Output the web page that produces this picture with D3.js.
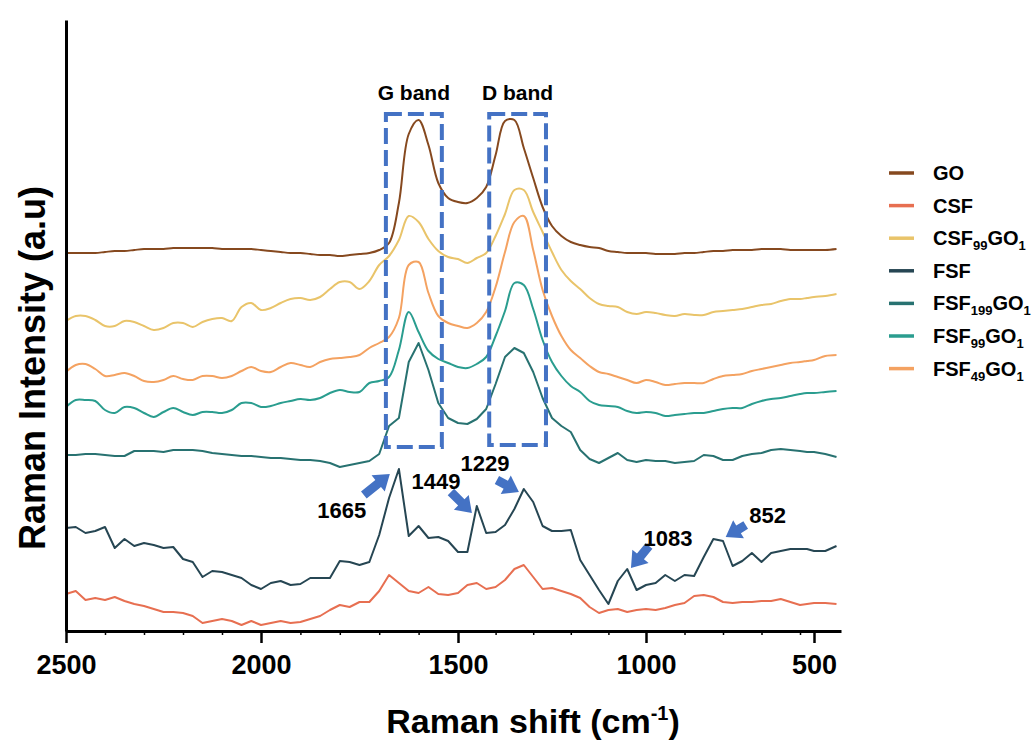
<!DOCTYPE html>
<html>
<head>
<meta charset="utf-8">
<script src="https://cdn.jsdelivr.net/npm/d3@7"></script>
<style>
  body { margin: 0; background: #fff; }
  text { font-family: "Liberation Sans", Arial, sans-serif; font-weight: bold; fill: #000; }
</style>
</head>
<body>
<script>
// Raman shift grid (cm-1), shared by every spectrum
var shifts = [2500,2475,2450,2425,2400,2375,2350,2325,2300,2275,
  2250,2225,2200,2175,2150,2125,2100,2075,2050,2025,
  2000,1975,1950,1925,1900,1875,1850,1825,1800,1775,
  1750,1725,1700,1675,1650,1625,1600,1575,1550,1525,
  1500,1475,1450,1425,1400,1375,1350,1325,1300,1275,
  1250,1225,1200,1175,1150,1125,1100,1075,1050,1025,
  1000,975,950,925,900,875,850,825,800,775,
  750,725,700,675,650,625,600,550,500,475,450];

// stacked intensities (a.u.)
var goValues = [378,378,378,378,379,380,380,381,382,382,
  382,383,383,383,383,383,382,382,382,382,
  381,380,379,378,378,377,376,376,375,376,
  377,378,381,388,428,497,511,486,448,433,
  429,428,433,444,476,510,511,483,453,424,
  405,395,389,386,384,383,380,379,378,378,
  378,377,377,377,378,378,379,380,380,381,
  381,381,382,382,382,381,381,381,381,381,382];

var csfValues = [37,40,31,33,31,34,30,27,25,22,
  19,19,18,15,8,10,12,10,6,10,
  6,8,10,8,9,12,15,21,26,24,
  29,29,40,56,48,40,38,44,37,36,
  38,46,48,42,44,51,62,66,54,42,
  43,40,37,33,24,18,21,22,19,21,
  22,21,23,26,28,35,36,34,29,28,
  29,29,30,30,32,29,26,27,28,28,27];

var csf99Values = [310,315,315,311,305,305,310,309,305,301,
  303,308,308,304,309,312,313,310,324,328,
  321,323,328,332,333,331,334,342,349,349,
  342,350,366,375,391,415,409,392,380,374,
  372,368,373,378,395,417,441,441,419,399,
  379,361,350,342,333,327,325,324,319,317,
  319,318,316,315,317,316,316,319,320,321,
  322,324,326,327,330,332,332,333,334,335,337];

var fsfValues = [103,104,98,100,104,83,92,85,88,86,
  83,84,72,69,54,60,59,56,53,46,
  42,48,50,46,47,53,53,53,70,69,
  66,69,96,133,162,95,105,93,94,90,
  79,79,125,98,99,106,122,142,129,105,
  100,100,101,71,56,41,27,50,62,41,
  46,48,56,50,56,55,74,92,90,65,
  70,78,69,78,80,82,82,82,80,80,85];

var fsf199Values = [176,176,177,177,176,175,175,180,180,180,
  179,181,181,181,180,178,177,176,175,175,
  174,173,173,172,171,171,170,168,164,166,
  168,170,177,205,213,269,288,261,228,213,
  208,207,212,222,247,274,283,278,259,233,
  213,205,199,181,172,168,173,178,171,169,
  171,170,170,168,169,170,176,175,171,171,
  175,177,178,181,182,181,180,179,179,177,174];

var fsf99Values = [224,231,231,230,221,218,224,223,218,214,
  219,223,219,216,219,219,218,221,228,228,
  224,225,228,230,232,231,233,238,241,239,
  239,248,250,254,281,319,299,280,272,268,
  264,263,267,274,295,320,348,346,322,291,
  269,255,245,239,230,226,225,224,220,218,
  219,218,215,216,217,218,218,220,222,223,
  223,227,230,232,233,235,237,238,238,239,240];

var fsf49Values = [259,266,267,262,255,256,258,255,250,249,
  251,255,252,251,255,255,253,255,260,264,
  260,259,264,268,266,264,269,272,273,274,
  276,283,288,294,313,366,369,338,315,308,
  305,303,308,319,344,379,409,415,381,341,
  315,295,281,273,265,259,257,254,251,248,
  251,249,246,247,248,248,248,252,255,256,
  257,260,262,264,266,268,269,270,271,275,276];

var seriesNames = ["GO", "CSF", "CSF99GO1", "FSF", "FSF199GO1", "FSF99GO1", "FSF49GO1"];
var seriesValues = [goValues, csfValues, csf99Values, fsfValues, fsf199Values, fsf99Values, fsf49Values];
var seriesColors = ["#86491f", "#e76f51", "#e9c46a", "#264653", "#287271", "#2a9d8f", "#f4a261"];
var seriesSmooth = [true, false, true, false, false, true, true];

var xTicks = [2500, 2000, 1500, 1000, 500];
var xMinorTicks = [2400,2300,2200,2100,1900,1800,1700,1600,1400,1300,1200,1100,900,800,700,600];

// band boxes (shift range, intensity range)
var bandLabels = ["G band", "D band"];
var bandFrom = [1683, 1417];
var bandTo = [1541, 1266];
var bandHigh = [517, 517];
var bandLow = [184, 186];

// peak markers on FSF
var peakLabels = ["1665", "1449", "1229", "1083", "852"];
var peakShift = [1673, 1463, 1338, 1040, 793];
var peakValue = [157, 118, 139, 63, 94];

var width = 1036,
    height = 747;

var svg = d3.select("body").append("svg")
    .attr("width", width)
    .attr("height", height);

// the printed axis is not evenly spaced, so the scale is piecewise
var x = d3.scaleLinear()
    .domain([2500, 2000, 1500, 1000, 600, 500, 440])
    .range([66, 261, 458, 646, 800, 814, 841]);

var y = d3.scaleLinear()
    .domain([0, 611])
    .range([631, 20]);

/* spectra */
seriesValues.forEach(function (vals, i) {
  var line = d3.line()
      .x(function (d, j) { return x(shifts[j]); })
      .y(function (d) { return y(d); })
      .curve(seriesSmooth[i] ? d3.curveCatmullRom.alpha(0.5) : d3.curveLinear);
  svg.append("path")
      .datum(vals)
      .attr("d", line)
      .attr("fill", "none")
      .attr("stroke", seriesColors[i])
      .attr("stroke-width", 2)
      .attr("stroke-linejoin", "round");
});

/* axes */
var xAxis = svg.append("g")
    .attr("transform", "translate(0," + y(0) + ")")
    .call(d3.axisBottom(x).tickValues(xTicks).tickSize(12).tickSizeOuter(0).tickFormat(d3.format("d")));
xAxis.select(".domain").attr("stroke", "#000").attr("stroke-width", 3);
xAxis.selectAll(".tick line").attr("stroke", "#000").attr("stroke-width", 2.5);
xAxis.selectAll(".tick text")
    .attr("y", 43).attr("dy", 0)
    .style("font-size", "27px")
    .style("font-family", "'Liberation Sans', Arial, sans-serif")
    .style("font-weight", "bold");

var xMinor = svg.append("g")
    .attr("transform", "translate(0," + y(0) + ")")
    .call(d3.axisBottom(x).tickValues(xMinorTicks).tickSize(4).tickFormat(""));
xMinor.select(".domain").remove();
xMinor.selectAll(".tick line").attr("stroke", "#000").attr("stroke-width", 1.5);

var yAxis = svg.append("g")
    .attr("transform", "translate(" + x(2500) + ",0)")
    .call(d3.axisLeft(y).tickValues([]).tickSizeOuter(0));
yAxis.select(".domain").attr("stroke", "#000").attr("stroke-width", 3);

/* axis titles */
var xt = svg.append("text")
    .attr("x", 533)
    .attr("y", 733)
    .attr("text-anchor", "middle")
    .style("font-size", "34px");
xt.append("tspan").text("Raman shift (cm");
xt.append("tspan").text("-1").attr("dy", -13).style("font-size", "20px");
xt.append("tspan").text(")").attr("dy", 13);

svg.append("text")
    .attr("transform", "translate(45,368) rotate(-90)")
    .attr("text-anchor", "middle")
    .style("font-size", "36px")
    .text("Raman Intensity (a.u)");

/* G / D band boxes */
bandLabels.forEach(function (lab, i) {
  svg.append("rect")
      .attr("x", x(bandFrom[i]))
      .attr("y", y(bandHigh[i]))
      .attr("width", x(bandTo[i]) - x(bandFrom[i]))
      .attr("height", y(bandLow[i]) - y(bandHigh[i]))
      .attr("fill", "none")
      .attr("stroke", "#4472c4")
      .attr("stroke-width", 4)
      .attr("stroke-dasharray", "16,6");
  svg.append("text")
      .attr("x", (x(bandFrom[i]) + x(bandTo[i])) / 2)
      .attr("y", y(bandHigh[i]) - 14)
      .attr("text-anchor", "middle")
      .style("font-size", "21px")
      .text(lab);
});

/* peak arrows */
function arrowPath(x1, y1, x2, y2) {
  var dx = x2 - x1, dy = y2 - y1, len = Math.sqrt(dx * dx + dy * dy);
  var ux = dx / len, uy = dy / len, nx = -uy, ny = ux;
  var hl = 15, hw = 10.5, sw = 4.5;
  var bx = x2 - ux * hl, by = y2 - uy * hl;
  var p = d3.path();
  p.moveTo(x1 + nx * sw, y1 + ny * sw);
  p.lineTo(bx + nx * sw, by + ny * sw);
  p.lineTo(bx + nx * hw, by + ny * hw);
  p.lineTo(x2, y2);
  p.lineTo(bx - nx * hw, by - ny * hw);
  p.lineTo(bx - nx * sw, by - ny * sw);
  p.lineTo(x1 - nx * sw, y1 - ny * sw);
  p.closePath();
  return p.toString();
}

// tail and label offsets from the arrow tip, px
var tailOff = [[-26, 21], [-21, -21], [-22, -12], [18, -22], [20, -12]];
var labelOff = [[-48, 36], [-36, -32], [-34, -29], [37, -30], [42, -22]];

peakLabels.forEach(function (lab, i) {
  var tx = x(peakShift[i]), ty = y(peakValue[i]);
  svg.append("path")
      .attr("d", arrowPath(tx + tailOff[i][0], ty + tailOff[i][1], tx, ty))
      .attr("fill", "#4472c4");
  svg.append("text")
      .attr("x", tx + labelOff[i][0])
      .attr("y", ty + labelOff[i][1] + 8)
      .attr("text-anchor", "middle")
      .style("font-size", "22px")
      .text(lab);
});

/* legend */
var legend = svg.append("g").attr("transform", "translate(889,173)");
seriesNames.forEach(function (name, i) {
  var g = legend.append("g").attr("transform", "translate(0," + (i * 32.6) + ")");
  g.append("line")
      .attr("x1", 0).attr("x2", 25)
      .attr("stroke", seriesColors[i])
      .attr("stroke-width", 3.5);
  var t = g.append("text")
      .attr("x", 44)
      .attr("y", 7)
      .style("font-size", "20px");
  // digits in the names are subscripts
  var parts = name.split(/(\d+)/);
  var sub = false;
  parts.forEach(function (p, k) {
    if (p === "") return;
    var isSub = k % 2 === 1;
    var ts = t.append("tspan").text(p);
    if (isSub) {
      ts.style("font-size", "13px").attr("dy", 5);
      sub = true;
    } else if (sub) {
      ts.attr("dy", -5);
      sub = false;
    }
  });
});
</script>
</body>
</html>
